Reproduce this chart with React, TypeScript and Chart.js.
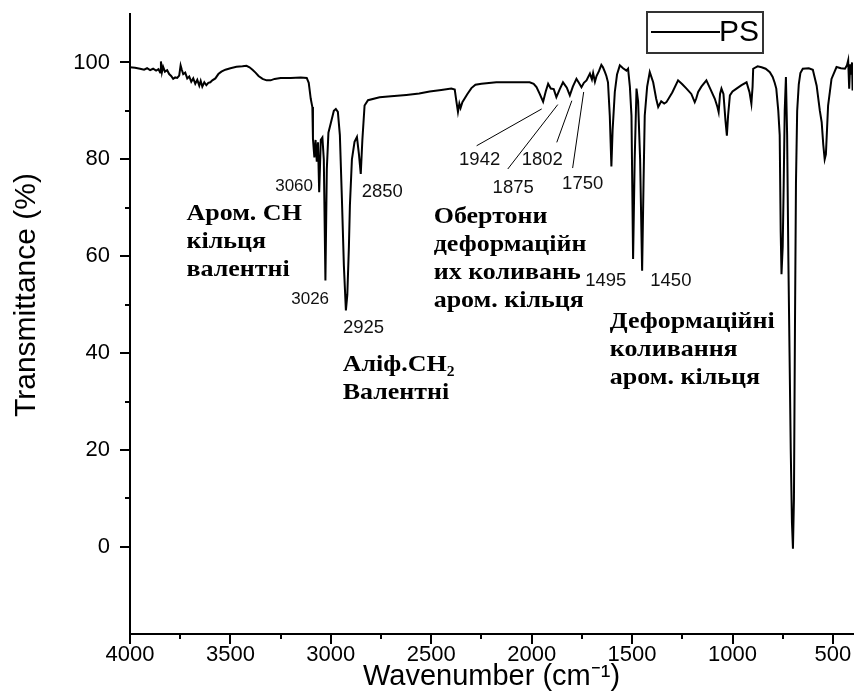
import React, { useEffect, useRef } from "react";
import { Chart, registerables } from "chart.js";

Chart.register(...registerables);

// ---- Spectrum data (wavenumber, cm-1 / transmittance, %) ----
const WAVENUMBER = [
  4000, 3975, 3950, 3930, 3915, 3900, 3885, 3870, 3858, 3850, 3846, 3841, 3835, 3826, 3815, 3805, 3795, 3785, 3775, 3765,
  3755, 3748, 3742, 3735, 3725, 3715, 3705, 3695, 3685, 3675, 3665, 3655, 3648, 3640, 3630, 3620, 3610, 3600, 3590, 3575,
  3560, 3545, 3525, 3500, 3470, 3440, 3420, 3405, 3390, 3375, 3360, 3340, 3320, 3300, 3280, 3250, 3200, 3150, 3120, 3110,
  3100, 3092, 3089, 3082, 3076, 3070, 3064, 3058, 3050, 3042, 3035, 3027, 3020, 3012, 3000, 2985, 2975, 2965, 2955, 2945,
  2935, 2925, 2918, 2910, 2905, 2895, 2882, 2870, 2860, 2851, 2843, 2832, 2815, 2757, 2700, 2624, 2560, 2508, 2450, 2400,
  2383, 2375, 2367, 2360, 2354, 2345, 2320, 2300, 2280, 2250, 2176, 2100, 2010, 1990, 1976, 1960, 1943, 1930, 1918, 1905,
  1890, 1877, 1860, 1844, 1825, 1810, 1795, 1777, 1765, 1752, 1740, 1727, 1710, 1700, 1694, 1685, 1677, 1665, 1653, 1645,
  1635, 1628, 1620, 1611, 1603, 1597, 1586, 1575, 1561, 1545, 1528, 1520, 1511, 1503, 1495, 1487, 1478, 1470, 1460, 1450,
  1443, 1437, 1425, 1412, 1395, 1380, 1370, 1355, 1340, 1329, 1300, 1271, 1250, 1229, 1205, 1188, 1181, 1171, 1155, 1130,
  1110, 1088, 1075, 1069, 1062, 1055, 1045, 1035, 1028, 1022, 1013, 1000, 980, 955, 930, 915, 906, 900, 897, 875,
  855, 835, 814, 800, 790, 782, 772, 765, 760, 756, 750, 745, 740, 734, 728, 722, 716, 710, 704, 699,
  694, 689, 684, 678, 670, 662, 650, 620, 600, 581, 565, 556, 548, 541, 535, 524, 507, 482, 460, 440,
  430, 424, 419, 414, 410, 405, 402,
];
const TRANSMITTANCE = [
  99.0, 98.9, 98.7, 98.5, 98.8, 98.4, 98.7, 98.3, 98.6, 97.9, 100.2, 98.0, 99.1, 98.1, 98.4, 97.6, 97.2, 96.6, 96.9, 96.8,
  97.3, 99.4, 98.5, 97.6, 97.9, 96.7, 97.1, 96.0, 96.7, 95.6, 96.4, 95.2, 96.2, 95.0, 95.9, 95.3, 95.8, 95.9, 96.3, 96.7,
  97.6, 98.1, 98.5, 98.8, 99.1, 99.2, 99.3, 99.0, 98.5, 97.9, 97.2, 96.6, 96.3, 96.3, 96.6, 96.8, 96.8, 96.9, 96.8, 95.8,
  92.5, 90.8, 84.2, 80.4, 84.0, 79.5, 83.5, 73.2, 84.0, 84.5, 80.0, 55.0, 78.0, 85.5, 87.5, 90.0, 90.4, 89.8, 85.0, 72.0,
  58.0, 48.8, 52.0, 62.0, 70.5, 80.0, 83.6, 84.6, 81.0, 77.0, 84.0, 91.1, 92.2, 92.8, 93.0, 93.3, 93.6, 94.0, 94.3, 94.6,
  94.4, 92.0, 89.8, 91.5, 90.6, 91.8, 93.5, 94.7, 95.4, 95.6, 95.9, 95.9, 95.9, 95.6, 94.9, 93.5, 91.9, 94.0, 95.6, 94.6,
  94.5, 92.85, 94.5, 95.9, 94.8, 93.2, 95.0, 96.6, 95.8, 94.9, 95.8, 96.3, 97.7, 96.5, 97.8, 96.0, 97.2, 98.2, 99.5, 99.0,
  98.0, 97.2, 95.9, 89.0, 78.5, 86.0, 93.9, 97.5, 99.4, 98.8, 98.3, 98.7, 95.0, 89.0, 59.4, 80.0, 94.6, 91.9, 80.0, 57.0,
  75.0, 89.0, 95.0, 98.0, 95.9, 92.5, 90.8, 92.0, 91.5, 91.8, 93.8, 96.3, 95.5, 94.6, 93.5, 91.8, 92.5, 93.9, 95.0, 96.3,
  94.5, 92.5, 90.8, 89.75, 93.5, 94.6, 93.5, 88.0, 84.9, 89.0, 93.2, 94.0, 94.6, 95.3, 95.9, 93.8, 91.5, 95.0, 98.7, 99.2,
  99.0, 98.7, 98.0, 97.0, 95.8, 94.6, 90.0, 85.0, 65.0, 56.3, 62.0, 75.0, 90.0, 97.0, 85.0, 60.0, 40.0, 20.0, 5.0, -0.4,
  10.0, 45.0, 75.0, 90.0, 95.5, 97.8, 98.7, 98.8, 98.5, 95.2, 90.0, 87.7, 83.0, 80.0, 81.0, 91.1, 96.6, 99.05, 98.8, 98.7,
  99.4, 100.4, 94.6, 99.6, 97.5, 100.0, 94.2,
];

const SERIES_LABEL = "PS";

// ---- Axes ----
const X_TICKS = [4000, 3500, 3000, 2500, 2000, 1500, 1000, 500];
const X_MINOR = [3750, 3250, 2750, 2250, 1750, 1250, 750];
const Y_TICKS = [0, 20, 40, 60, 80, 100];
const Y_MINOR = [10, 30, 50, 70, 90];
const X_TITLE = "Wavenumber (cm\u207B\u00B9)";
const Y_TITLE = "Transmittance (%)";

// ---- Peak labels (placed in data coordinates) ----
const PEAK_TEXT = ["3060", "3026", "2925", "2850", "1942", "1875", "1802", "1750", "1495", "1450"];
const PEAK_X = [3183, 3103, 2837, 2744, 2259, 2092, 1947, 1746, 1631, 1307];
const PEAK_Y = [74.5, 51.2, 45.2, 73.3, 79.9, 74.1, 79.9, 74.9, 54.9, 54.9];
const PEAK_SIZE = [17, 17, 18.5, 18.5, 18.5, 18.5, 18.5, 18.5, 18.5, 18.5];

// ---- Leader lines for overtone labels ----
const LEADER_X1 = [2274, 2119, 1875, 1796];
const LEADER_Y1 = [82.8, 78.0, 83.5, 78.2];
const LEADER_X2 = [1950, 1870, 1800, 1741];
const LEADER_Y2 = [90.4, 91.3, 92.1, 93.9];

// ---- Band assignment notes ----
const NOTE_LINES = [
  ["Аром. CH", "кільця", "валентні"],
  ["Аліф.CH\u2082", "Валентні"],
  ["Обертони", "деформаційн", "их коливань", "аром. кільця"],
  ["Деформаційні", "коливання", "аром. кільця"],
];
const NOTE_X = [3719, 2941, 2488, 1611];
const NOTE_Y = [68.7, 37.5, 68.1, 46.4];

export default function App() {
  const ref = useRef<HTMLCanvasElement>(null);

  useEffect(() => {
    const canvas = ref.current;
    if (!canvas) return;
    const points = WAVENUMBER.map((w, i) => ({ x: w, y: TRANSMITTANCE[i] }));

    const extras = {
      id: "extras",
      afterDraw(chart: any) {
        const { ctx, chartArea, scales } = chart;
        const xs = scales.x;
        const ys = scales.y;
        ctx.save();
        // minor ticks
        ctx.strokeStyle = "#000";
        ctx.lineWidth = 2;
        Y_MINOR.forEach((v) => {
          const py = Math.round(ys.getPixelForValue(v));
          ctx.beginPath();
          ctx.moveTo(chartArea.left - 5, py);
          ctx.lineTo(chartArea.left, py);
          ctx.stroke();
        });
        X_MINOR.forEach((v) => {
          const px = Math.round(xs.getPixelForValue(v));
          ctx.beginPath();
          ctx.moveTo(px, chartArea.bottom);
          ctx.lineTo(px, chartArea.bottom + 5);
          ctx.stroke();
        });
        // y axis title
        ctx.save();
        ctx.translate(27, 295);
        ctx.rotate(-Math.PI / 2);
        ctx.fillStyle = "#000";
        ctx.font = '30px "Liberation Sans", Arial, sans-serif';
        ctx.textAlign = "center";
        ctx.textBaseline = "middle";
        ctx.fillText(Y_TITLE, 0, 0);
        ctx.restore();
        // leader lines
        ctx.lineWidth = 1;
        LEADER_X1.forEach((_, i) => {
          ctx.beginPath();
          ctx.moveTo(xs.getPixelForValue(LEADER_X1[i]), ys.getPixelForValue(LEADER_Y1[i]));
          ctx.lineTo(xs.getPixelForValue(LEADER_X2[i]), ys.getPixelForValue(LEADER_Y2[i]));
          ctx.stroke();
        });
        // peak labels
        ctx.fillStyle = "#111";
        ctx.textAlign = "center";
        ctx.textBaseline = "middle";
        PEAK_TEXT.forEach((t, i) => {
          ctx.font = `${PEAK_SIZE[i]}px "Liberation Sans", Arial, sans-serif`;
          ctx.fillText(t, xs.getPixelForValue(PEAK_X[i]), ys.getPixelForValue(PEAK_Y[i]));
        });
        // notes (bold serif, slightly widened)
        ctx.fillStyle = "#000";
        ctx.textAlign = "left";
        ctx.font = 'bold 23px "Liberation Serif", "Times New Roman", serif';
        NOTE_LINES.forEach((lines, i) => {
          const px = xs.getPixelForValue(NOTE_X[i]);
          const py = ys.getPixelForValue(NOTE_Y[i]);
          lines.forEach((line, j) => {
            ctx.save();
            ctx.translate(px, py + j * 28);
            ctx.scale(1.13, 1);
            ctx.fillText(line, 0, 0);
            ctx.restore();
          });
        });
        // legend
        ctx.strokeStyle = "#333";
        ctx.lineWidth = 2;
        ctx.strokeRect(647, 12, 116, 41);
        ctx.strokeStyle = "#000";
        ctx.beginPath();
        ctx.moveTo(651, 32);
        ctx.lineTo(720, 32);
        ctx.stroke();
        ctx.fillStyle = "#000";
        ctx.font = '30px "Liberation Sans", Arial, sans-serif';
        ctx.textAlign = "left";
        ctx.fillText(SERIES_LABEL, 719, 33);
        ctx.restore();
      },
    };

    const chart = new Chart(canvas, {
      type: "line",
      data: {
        datasets: [
          {
            label: SERIES_LABEL,
            data: points,
            borderColor: "#000",
            backgroundColor: "#000",
            borderWidth: 2,
            pointRadius: 0,
            tension: 0,
            fill: false,
          },
        ],
      },
      options: {
        responsive: false,
        animation: false,
        devicePixelRatio: 1,
        layout: { padding: { left: 0, top: 14, right: 4, bottom: 0 } },
        plugins: { legend: { display: false }, tooltip: { enabled: false } },
        scales: {
          x: {
            type: "linear",
            reverse: true,
            min: 400,
            max: 4000,
            afterBuildTicks: (s: any) => {
              s.ticks = X_TICKS.map((v) => ({ value: v }));
            },
            afterFit: (s: any) => {
              s.height = 58;
              s.paddingLeft = 0;
              s.paddingRight = 0;
            },
            border: { display: true, color: "#000", width: 2 },
            grid: { drawOnChartArea: false, drawTicks: true, tickLength: 10, color: "#000", lineWidth: 2 },
            ticks: {
              color: "#000",
              padding: 0,
              maxRotation: 0,
              autoSkip: false,
              font: { family: '"Liberation Sans", Arial, sans-serif', size: 22, lineHeight: 1 },
              callback: (v: any) => String(v),
            },
            title: {
              display: true,
              text: X_TITLE,
              color: "#000",
              font: { family: '"Liberation Sans", Arial, sans-serif', size: 29, lineHeight: 1.2 },
              padding: { top: 0, bottom: -2 },
            },
          },
          y: {
            type: "linear",
            min: -18,
            max: 110,
            afterBuildTicks: (s: any) => {
              s.ticks = Y_TICKS.map((v) => ({ value: v }));
            },
            afterFit: (s: any) => {
              s.width = 130;
              s.paddingTop = 0;
              s.paddingBottom = 0;
            },
            border: { display: true, color: "#000", width: 2 },
            grid: { drawOnChartArea: false, drawTicks: true, tickLength: 10, color: "#000", lineWidth: 2 },
            ticks: {
              color: "#000",
              padding: 10,
              autoSkip: false,
              font: { family: '"Liberation Sans", Arial, sans-serif', size: 22, lineHeight: 1 },
              callback: (v: any) => String(v),
            },
            title: { display: false, text: Y_TITLE },
          },
        },
      },
      plugins: [extras],
    } as any);

    return () => chart.destroy();
  }, []);

  return (
    <div style={{ position: "absolute", left: 0, top: 0, width: 857, height: 692, background: "#fff" }}>
      <canvas ref={ref} width={857} height={692} style={{ display: "block" }} />
    </div>
  );
}
